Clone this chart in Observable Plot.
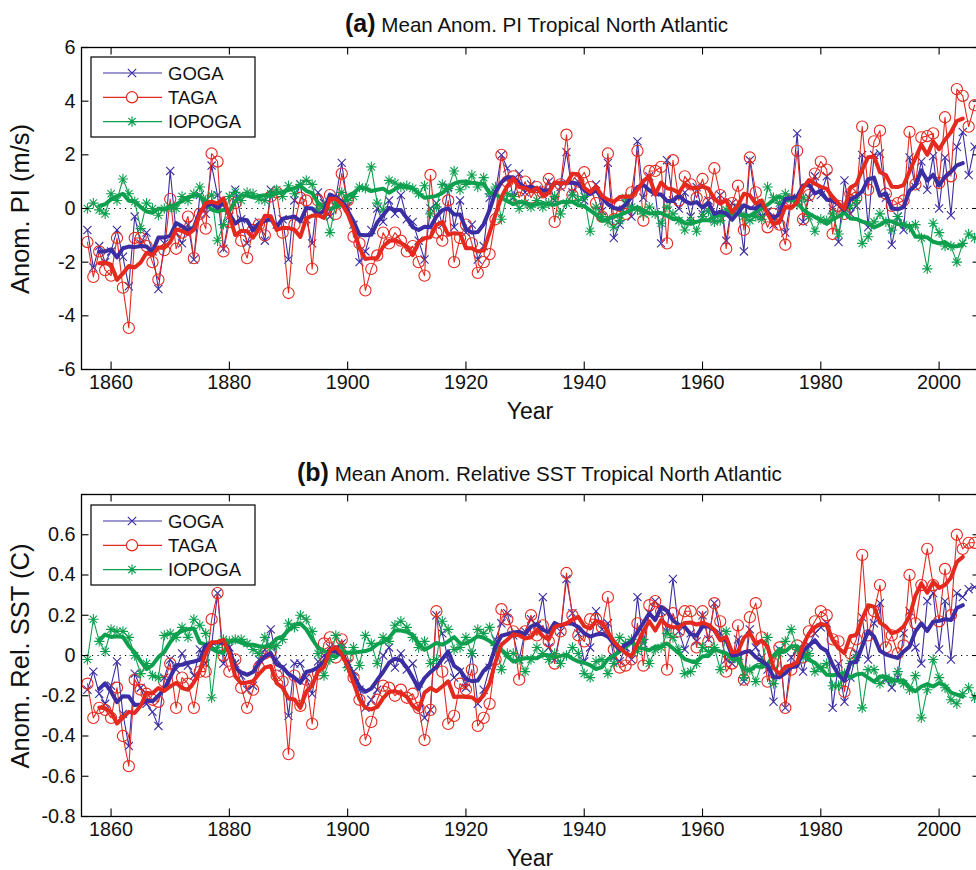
<!DOCTYPE html>
<html>
<head>
<meta charset="utf-8">
<script src="https://cdn.jsdelivr.net/npm/d3@7"></script>
<script src="https://cdn.jsdelivr.net/npm/@observablehq/plot@0.6"></script>
<style>
  html, body { margin: 0; padding: 0; background: #fff; overflow: hidden; }
  #wrap { position: relative; width: 976px; height: 870px; overflow: hidden;
          font-family: "Liberation Sans", Arial, Helvetica, sans-serif; }
  .layer { position: absolute; left: 0; width: 990px; }
</style>
</head>
<body>
<div id="wrap">
  <div id="pa" class="layer" style="top:0px"></div>
  <div id="pb" class="layer" style="top:440px"></div>
  <svg id="overlay" class="layer" style="top:0px" width="976" height="870"></svg>
</div>
<script>
// ---------------- data ----------------
const startYear = 1856;
const seriesNames = ["GOGA", "TAGA", "IOPOGA"];
const xTicks = [1860, 1880, 1900, 1920, 1940, 1960, 1980, 2000];
const yTicksA = [-6, -4, -2, 0, 2, 4, 6];
const yTicksB = [-0.8, -0.6, -0.4, -0.2, 0, 0.2, 0.4, 0.6];

// (a) Mean anomaly PI, Tropical North Atlantic (m/s), 1856-2006
const gogaA = [
  -0.8, -2.2, -1.4, -2.0,
  -1.6, -0.8, -1.8, -2.9, -0.3, -1.3, -0.9, -1.6, -3.0, -1.3,
  1.4, -0.9, -1.3, -0.6, -1.9, 0.5, -0.2, 1.6, 0.5, -1.5,
  -0.3, 0.7, -0.4, -1.3, -0.7, -0.5, -1.2, 0.7, -0.6, -0.4,
  -1.9, 0.3, 0.9, -0.4, -1.3, 0.6, 0.2, -0.3, 0.4, 1.7,
  0.1, -0.6, -2.0, -1.6, -0.8, 0.0, -0.5, 0.3, -0.2, 0.5,
  -0.4, -0.5, -1.2, -1.9, 0.0, 0.2, -0.6, 0.8, -0.7, 0.3,
  -0.9, -0.6, -1.9, -1.4, 0.4, 0.6, 2.0, 1.5, 0.4, 1.3,
  0.6, 0.9, 0.7, 0.5, 1.0, 0.3, 0.8, 2.1, 0.6, 1.0,
  0.3, 0.6, 0.9, -0.1, 1.7, -1.1, -0.6, 0.2, -0.3, 2.5,
  0.4, 1.2, 0.6, -1.3, 1.8, 0.3, 0.0, 0.6, -0.3, 0.8,
  -0.2, 0.3, -0.4, 0.5, -1.2, 0.2, 0.0, -1.6, 1.8, 0.2,
  -0.3, -0.1, -0.6, 0.1, -0.9, 0.4, 2.8, -0.5, 0.4, 1.2,
  0.5, 1.2, 0.0, -1.25, 1.05, -0.2, 0.1, 2.0, -0.7, 2.0,
  2.05, 0.4, -1.35, -0.3, -0.8, 1.9, 0.8, 1.75, 0.7, 1.95,
  0.0, 1.9, -0.25, 2.3, 2.85, 1.25, 2.3
];
const tagaA = [
  -1.25, -2.55, -1.6, -2.3,
  -2.5, -1.1, -2.95, -4.45, -1.1, -1.1, -1.4, -2.0, -2.65, -1.55,
  0.35, -1.5, -0.9, -0.3, -1.85, -0.2, -0.75, 2.05, 1.75, -1.6,
  -0.5, 0.2, -1.2, -1.85, -0.8, -0.6, -1.0, 0.45, 0.6, -0.9,
  -3.15, -0.6, 0.4, 0.3, -2.25, 0.3, -0.1, 0.5, -0.2, 1.3,
  0.3, -1.05, -1.3, -3.05, -2.25, -1.75, -0.9, -1.3, -0.9, -1.2,
  -1.6, -1.4, -2.0, -2.5, 1.25, -0.9, -1.2, 0.3, -2.0, -1.1,
  -0.6, -1.3, -2.4, -2.0, -1.7, -0.4, 2.0, 1.0, 1.2, 0.4,
  1.0, 0.4, 0.8, 0.6, 1.1, -0.5, 0.9, 2.75, 0.5, 1.0,
  1.35, 0.8, 0.2, -0.3, 2.05, -0.4, 0.1, -0.2, 0.6, 2.15,
  -0.45, 1.4, 1.4, 1.55, -1.3, 1.8, 0.3, 1.2, 0.9, 0.4,
  1.1, 0.2, 1.5, 0.5, -1.5, 0.2, 0.85, -0.8, 1.9, 0.6,
  -0.1, -0.7, -0.2, -0.6, -1.35, 0.3, 2.15, -0.4, 0.5, 1.3,
  1.75, 1.45, -0.95, 0.1, -0.2, 0.55, 0.4, 3.05, 0.7, 2.5,
  2.9, 0.55, 0.1, 0.2, 0.3, 2.85, 0.9, 2.65, 2.7, 2.8,
  0.95, 3.4, 1.2, 4.45, 4.2, 3.05, 3.85
];
const iopogaA = [
  0.0, 0.2, -0.05, -0.2,
  0.55, 0.3, 1.1, 0.55, 0.25, -0.75, 0.2, 0.0, -0.25, 0.0,
  0.05, 0.0, 0.45, 0.3, 0.55, 0.8, 0.3, 0.5, -1.2, -0.6,
  0.45, 0.6, 0.3, 0.6, 0.55, 0.35, 0.3, 0.55, 0.7, 0.45,
  0.85, 0.55, 0.9, 1.05, 0.9, -0.1, 0.1, -0.9, 0.2, 0.6,
  0.3, 0.45, 0.8, 0.75, 1.55, 0.2, -0.05, 1.05, 0.95, 0.8,
  0.85, 0.75, 0.55, 0.85, -0.2, 0.05, 0.9, 0.75, 1.4, 0.7,
  0.9, 1.25, 0.8, 1.15, 0.55, 0.8, -0.4, 0.55, 0.45, 0.0,
  0.2, 0.05, 0.3, 0.05, 0.2, 0.45, -0.2, 0.2, 0.5, 0.3,
  0.45, -0.85, 0.05, -0.3, -0.5, -0.7, -0.45, 0.4, 0.05, -0.05,
  -0.2, 0.05, -0.2, -0.55, 0.05, -0.2, -0.45, -0.8, -0.45, -0.85,
  -0.3, -0.1, -0.5, -0.45, -0.05, -0.2, 0.05, -0.3, -0.45, -0.3,
  -0.4, 0.8, 0.4, 0.2, 0.55, 0.35, 0.15, 0.4, -0.3, -0.85,
  -0.4, -0.45, -0.2, -0.95, 0.0, 0.1, 0.3, -1.3, -1.05, -0.5,
  -0.2, -0.5, -0.8, -0.3, -0.6, -0.7, -0.6, -1.1, -2.25, -0.55,
  -0.9, -1.4, -1.4, -2.0, -1.3, -0.95, -1.1
];

// (b) Mean anomaly relative SST, Tropical North Atlantic (C), 1856-2006
const gogaB = [
  -0.17, -0.08, -0.19, -0.24,
  -0.15, -0.03, -0.29, -0.45, -0.09, -0.16, -0.24, -0.28, -0.35, -0.11,
  -0.02, -0.07, 0.01, -0.05, -0.10, 0.03, -0.04, 0.05, 0.31, -0.04,
  0.04, -0.04, -0.10, -0.17, -0.15, -0.02, 0.03, 0.13, -0.02, -0.06,
  -0.30, -0.04, -0.04, -0.11, -0.19, -0.03, 0.00, 0.04, 0.04, 0.06,
  -0.04, -0.08, -0.17, -0.26, -0.22, -0.17, 0.00, 0.04, -0.06, 0.01,
  -0.07, -0.04, -0.14, -0.31, -0.27, 0.20, 0.11, -0.02, -0.11, -0.08,
  -0.16, 0.01, -0.24, -0.17, -0.06, 0.08, 0.16, 0.21, 0.10, -0.02,
  0.12, 0.18, 0.15, 0.29, 0.04, -0.02, 0.12, 0.38, 0.21, 0.11,
  -0.03, 0.04, 0.22, 0.13, 0.16, -0.01, -0.03, 0.04, -0.02, 0.29,
  0.06, 0.21, 0.27, 0.22, 0.12, 0.38, 0.12, 0.03, 0.11, 0.07,
  0.20, 0.08, 0.26, 0.11, -0.02, -0.04, 0.08, -0.13, 0.13, 0.04,
  -0.01, -0.07, -0.23, 0.03, -0.26, -0.01, 0.03, -0.08, 0.05, 0.11,
  0.14, 0.16, -0.26, -0.04, -0.23, -0.11, 0.01, 0.19, -0.02, 0.16,
  0.26, -0.12, -0.16, -0.11, 0.11, 0.22, 0.04, -0.04, 0.27, 0.31,
  0.03, 0.27, -0.02, 0.31, 0.29, 0.33, 0.34
];
const tagaB = [
  -0.14, -0.31, -0.26, -0.27,
  -0.31, -0.16, -0.40, -0.55, -0.12, -0.17, -0.19, -0.22, -0.23, -0.13,
  -0.04, -0.26, -0.11, -0.14, -0.26, -0.08, -0.08, 0.18, 0.31, 0.00,
  -0.08, -0.02, -0.16, -0.26, -0.17, -0.06, 0.01, 0.02, -0.10, -0.13,
  -0.49, -0.10, -0.25, -0.12, -0.34, -0.09, 0.06, 0.09, -0.01, 0.08,
  -0.01, -0.11, -0.22, -0.42, -0.33, -0.22, -0.15, -0.16, -0.20, -0.17,
  -0.21, -0.19, -0.26, -0.42, -0.27, 0.22, -0.08, -0.34, -0.30, -0.14,
  -0.17, -0.07, -0.35, -0.31, -0.24, -0.02, 0.23, 0.18, 0.12, -0.12,
  0.12, 0.20, 0.10, 0.15, 0.07, -0.04, 0.12, 0.41, 0.20, 0.10,
  0.07, 0.18, 0.18, 0.14, 0.29, 0.03, -0.06, -0.05, -0.02, 0.16,
  -0.05, 0.25, 0.27, 0.22, -0.07, 0.21, 0.12, 0.22, 0.22, 0.04,
  0.22, 0.07, 0.26, 0.17, -0.08, -0.04, 0.15, -0.12, 0.19, 0.26,
  0.09, -0.13, -0.04, 0.04, -0.26, -0.07, 0.05, -0.01, 0.12, 0.17,
  0.22, 0.20, 0.08, 0.07, -0.18, 0.01, 0.08, 0.50, 0.10, 0.22,
  0.35, 0.04, 0.10, 0.01, 0.05, 0.40, 0.16, 0.35, 0.53, 0.35,
  0.17, 0.43, 0.20, 0.60, 0.53, 0.56, 0.56
];
const iopogaB = [
  -0.02, 0.18, 0.07, 0.02,
  0.13, 0.12, 0.12, 0.09, 0.00, -0.09, -0.04, -0.10, -0.11, 0.10,
  0.11, 0.09, 0.14, 0.09, 0.18, 0.15, 0.11, -0.21, 0.04, 0.08,
  0.07, 0.08, 0.08, 0.06, 0.03, 0.01, 0.09, 0.04, 0.05, 0.08,
  0.16, 0.14, 0.20, 0.18, 0.12, 0.01, -0.10, -0.02, 0.10, 0.04,
  -0.06, 0.04, -0.05, 0.10, 0.06, -0.04, 0.09, 0.07, 0.15, 0.17,
  0.14, 0.09, 0.04, 0.07, -0.04, -0.02, 0.17, 0.13, 0.03, 0.04,
  0.09, 0.01, 0.13, 0.11, 0.14, 0.05, -0.07, 0.01, 0.01, -0.02,
  -0.08, -0.02, 0.04, 0.01, -0.02, 0.01, -0.04, 0.00, 0.04, 0.01,
  -0.09, -0.11, -0.03, -0.02, -0.09, -0.04, 0.09, 0.06, 0.08, 0.02,
  0.08, -0.04, 0.03, 0.04, 0.11, 0.09, 0.03, -0.09, -0.08, -0.04,
  0.04, 0.02, 0.04, -0.07, 0.12, -0.01, -0.02, -0.11, -0.07, -0.13,
  -0.04, 0.09, -0.14, 0.01, 0.07, 0.13, 0.03, -0.01, 0.01, -0.08,
  -0.06, -0.04, -0.15, -0.15, -0.09, -0.04, -0.01, -0.26, -0.07, -0.07,
  -0.14, -0.11, -0.13, -0.08, -0.14, -0.17, -0.10, -0.31, -0.17, -0.02,
  -0.11, -0.16, -0.22, -0.24, -0.19, -0.16, -0.21
];

// ---------------- styles ----------------
const FONT = '"Liberation Sans", Arial, Helvetica, sans-serif';
const TICK_FONT = 19.8;
const colors = { GOGA: "#3b2ea3", TAGA: "#e4291f", IOPOGA: "#0ea04f" };
const symTimes = { draw(ctx, size) { const r = Math.sqrt(size / Math.PI) * 0.78;
  ctx.moveTo(-r, -r); ctx.lineTo(r, r); ctx.moveTo(-r, r); ctx.lineTo(r, -r); } };
const symStar = { draw(ctx, size) { const r = Math.sqrt(size / Math.PI); const d = r * 0.7071;
  ctx.moveTo(0, -r); ctx.lineTo(0, r); ctx.moveTo(-r, 0); ctx.lineTo(r, 0);
  ctx.moveTo(-d, -d); ctx.lineTo(d, d); ctx.moveTo(-d, d); ctx.lineTo(d, -d); } };
const symbols = { GOGA: symTimes, TAGA: "circle", IOPOGA: symStar };
const radii = { GOGA: 5.2, TAGA: 5.6, IOPOGA: 5.2 };
const xDomain = [1855, 2007];
const toRows = vals => vals.map((v, i) => ({ year: startYear + i, value: v }));

function panel({ values, yDomain, yTicks, mTop, mBottom, height }) {
  const plotH = height - mTop - mBottom;
  const plotW = 990 - 81 - 10;
  const tickPx = 7.5;
  const xTickLen = tickPx / plotH * (yDomain[1] - yDomain[0]);
  const yTickLen = tickPx / plotW * (xDomain[1] - xDomain[0]);
  const allYTicks = yTicks.concat([yDomain[1]]);
  const marks = [Plot.ruleY([0], { stroke: "#000", strokeWidth: 1, strokeDasharray: "1.2,4.3" })];
  seriesNames.forEach((name, k) => {
    const rows = toRows(values[k]);
    marks.push(Plot.lineY(rows, { x: "year", y: "value", stroke: colors[name], strokeWidth: 1.1 }));
    marks.push(Plot.dot(rows, { x: "year", y: "value", symbol: symbols[name], r: radii[name],
      stroke: colors[name], fill: "none", strokeWidth: 1.1 }));
  });
  ["IOPOGA", "GOGA", "TAGA"].forEach(name => {
    const rows = toRows(values[seriesNames.indexOf(name)]);
    marks.push(Plot.lineY(rows, Plot.windowY({ k: 5, anchor: "middle", strict: true, reduce: "mean" },
      { x: "year", y: "value", stroke: colors[name], strokeWidth: 4, strokeLinejoin: "round" })));
  });
  marks.push(
    Plot.frame({ stroke: "#000", strokeWidth: 1.3 }),
    Plot.ruleX(xTicks, { y1: yDomain[0], y2: yDomain[0] + xTickLen, stroke: "#000", strokeWidth: 1.1 }),
    Plot.ruleX(xTicks, { y1: yDomain[1], y2: yDomain[1] - xTickLen, stroke: "#000", strokeWidth: 1.1 }),
    Plot.ruleY(allYTicks, { x1: xDomain[0], x2: xDomain[0] + yTickLen, stroke: "#000", strokeWidth: 1.1 }),
    Plot.ruleY(allYTicks, { x1: xDomain[1], x2: xDomain[1] - yTickLen, stroke: "#000", strokeWidth: 1.1 }),
    Plot.axisX({ ticks: xTicks, tickSize: 0, tickPadding: 5, tickFormat: d => String(d), label: null,
      fontSize: TICK_FONT, fill: "#111" }),
    Plot.axisY({ ticks: yTicks, tickSize: 0, tickPadding: 6, tickFormat: d => String(d), label: null,
      fontSize: TICK_FONT, fill: "#111" })
  );
  return Plot.plot({
    width: 990, height,
    marginLeft: 81, marginRight: 10, marginTop: mTop, marginBottom: mBottom,
    x: { domain: xDomain },
    y: { domain: yDomain },
    style: { fontFamily: FONT, fontSize: TICK_FONT + "px", color: "#111", background: "transparent",
             overflow: "visible", maxWidth: "none", width: "990px" },
    marks
  });
}

document.getElementById("pa").append(panel({ values: [gogaA, tagaA, iopogaA], yDomain: [-6, 6],
  yTicks: yTicksA, mTop: 47, mBottom: 61, height: 430 }));
document.getElementById("pb").append(panel({ values: [gogaB, tagaB, iopogaB], yDomain: [-0.8, 0.8],
  yTicks: yTicksB, mTop: 54, mBottom: 54, height: 430 }));

// ---------------- annotations (titles, labels, legends) ----------------
const ov = d3.select("#overlay").style("font-family", FONT);
function title(x, y, tag, text) {
  const t = ov.append("text").attr("x", x).attr("y", y).attr("fill", "#111");
  t.append("tspan").attr("font-weight", "bold").attr("font-size", 25).text(tag);
  t.append("tspan").attr("font-size", 20.6).text(" " + text);
}
title(345, 32, "(a)", "Mean Anom. PI Tropical North Atlantic");
title(297, 481, "(b)", "Mean Anom. Relative SST Tropical North Atlantic");
function xlabel(y) {
  ov.append("text").attr("x", 530).attr("y", y).attr("text-anchor", "middle")
    .attr("font-size", 23).attr("fill", "#111").text("Year");
}
xlabel(419); xlabel(866);
function ylabel(cy, text) {
  ov.append("text").attr("transform", `translate(29,${cy}) rotate(-90)`)
    .attr("text-anchor", "middle").attr("font-size", 25.5).attr("fill", "#111").text(text);
}
ylabel(209, "Anom. PI (m/s)");
ylabel(656, "Anom. Rel. SST (C)");
function legend(top) {
  const g = ov.append("g");
  g.append("rect").attr("x", 91).attr("y", top).attr("width", 164).attr("height", 80)
    .attr("fill", "#fff").attr("stroke", "#000").attr("stroke-width", 1.2);
  seriesNames.forEach((name, i) => {
    const cy = top + 16 + i * 24.3;
    const c = colors[name];
    g.append("line").attr("x1", 103).attr("x2", 162).attr("y1", cy).attr("y2", cy)
      .attr("stroke", c).attr("stroke-width", 1.2);
    const s = 4.2;
    if (name === "GOGA") {
      g.append("path").attr("d", `M${132 - s},${cy - s}L${132 + s},${cy + s}M${132 - s},${cy + s}L${132 + s},${cy - s}`)
        .attr("stroke", c).attr("stroke-width", 1.2).attr("fill", "none");
    } else if (name === "TAGA") {
      g.append("circle").attr("cx", 132).attr("cy", cy).attr("r", 5.6)
        .attr("stroke", c).attr("stroke-width", 1.2).attr("fill", "#fff");
    } else {
      const r = 5.2, d = r * 0.7071;
      g.append("path").attr("d", `M132,${cy - r}L132,${cy + r}M${132 - r},${cy}L${132 + r},${cy}M${132 - d},${cy - d}L${132 + d},${cy + d}M${132 - d},${cy + d}L${132 + d},${cy - d}`)
        .attr("stroke", c).attr("stroke-width", 1.2).attr("fill", "none");
    }
    g.append("text").attr("x", 168).attr("y", cy + 6.5).attr("font-size", 18.5).attr("fill", "#111").text(name);
  });
}
legend(57);
legend(505);
</script>
</body>
</html>
